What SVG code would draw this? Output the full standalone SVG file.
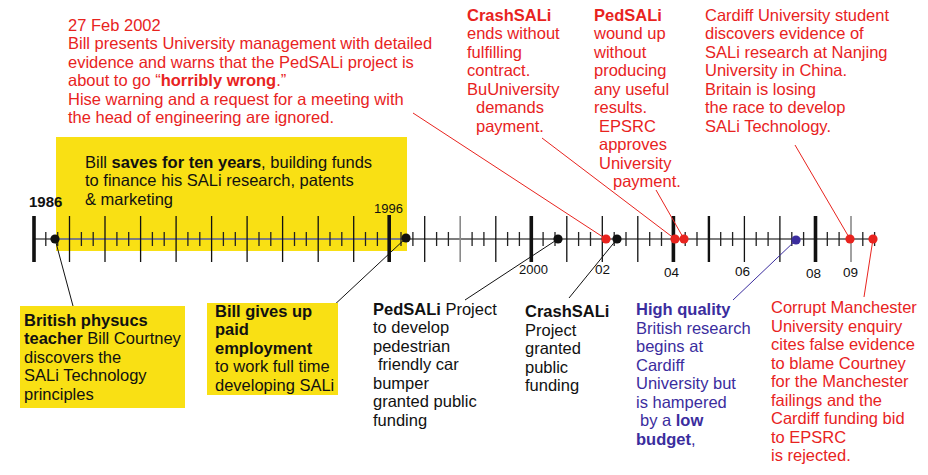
<svg xmlns="http://www.w3.org/2000/svg" width="928" height="475" viewBox="0 0 928 475">
<style>
text{font-family:"Liberation Sans",Arial,sans-serif;font-size:16.5px}
.r{fill:#e8231e}
.k{fill:#111}
.bl{fill:#3b2d9e}
.b{font-weight:bold}
.yr{font-size:13.5px;fill:#111}
.box{fill:#f9e014}
.tk{stroke:#111;stroke-width:1.3}
.sm{stroke:#222;stroke-width:1.3}
.th{stroke:#111;stroke-width:3.6}
.gr{stroke:#8a8a8a;stroke-width:1.6}
.cn{fill:none;stroke-width:1}
</style>
<rect width="928" height="475" fill="#fff"/>

<g id="savings-box">
<rect class="box" x="56" y="137" width="351" height="114"/>
<text class="k" x="85" y="167.5">Bill <tspan class="b">saves for ten years</tspan>, building funds</text>
<text class="k" x="85" y="186">to finance his SALi research, patents</text>
<text class="k" x="85" y="204.5">&amp; marketing</text>
</g>

<g id="timeline">
<line x1="34" y1="239" x2="877" y2="239" stroke="#7d7d7d" stroke-width="2"/>
<path class="sm" d="M45.8 232V246M57.7 232V246M81.4 232V246M93.2 232V246M116.9 232V246M128.7 232V246M152.4 232V246M164.2 232V246M187.9 232V246M199.8 232V246M223.4 232V246M235.3 232V246M259 232V246M270.8 232V246M294.5 232V246M306.3 232V246M330 232V246M341.8 232V246M365.5 232V246M377.4 232V246M401 232V246M412.9 232V246M436.6 232V246M448.4 232V246M472.1 232V246M483.9 232V246M507.6 232V246M519.4 232V246M543.1 232V246M555 232V246M578.6 232V246M590.5 232V246M614.2 232V246M626 232V246M649.7 232V246M661.5 232V246M685.2 232V246M697 232V246M720.7 232V246M732.6 232V246M756.2 232V246M768.1 232V246M791.8 232V246M803.6 232V246M827.3 232V246M839.1 232V246M862.8 232V246M874.6 232V246"/>
<path class="tk" d="M69.5 216V262M105 216V262M140.6 216V262M176.1 216V262M211.6 216V262M247.1 216V262M282.6 216V262M318.2 216V262M353.7 216V262M424.7 216V262M495.8 216V262M566.8 216V262M602.3 216V262M637.8 216V262M744.4 216V262M779.9 216V262"/>
<path class="gr" d="M460.2 216V262M851 216V262"/>
<path class="th" d="M34 216V262M389.2 215V262M531.3 216V262M673.4 216V262M815.5 216V262"/>
<path stroke="#111" stroke-width="2.4" d="M708.9 216V262"/>
<text class="k b" x="29" y="207" style="font-size:15px">1986</text>
<text class="yr" x="374" y="213" style="font-size:13px">1996</text>
<text class="yr" x="519" y="274" style="font-size:13px">2000</text>
<text class="yr" x="595" y="274">02</text>
<text class="yr" x="664" y="276.5">04</text>
<text class="yr" x="735" y="276">06</text>
<text class="yr" x="806" y="278">08</text>
<text class="yr" x="843" y="277">09</text>
</g>

<g id="connectors">
<line class="cn" stroke="#111" x1="55" y1="239" x2="73" y2="306"/>
<line class="cn" stroke="#111" x1="406" y1="238" x2="331" y2="308"/>
<line class="cn" stroke="#111" x1="558" y1="239" x2="465" y2="300"/>
<line class="cn" stroke="#111" x1="617" y1="239" x2="569" y2="298"/>
<line class="cn" stroke="#3b2d9e" x1="796" y1="240" x2="733" y2="300"/>
<line class="cn" stroke="#e8231e" x1="413" y1="113" x2="606" y2="239"/>
<line class="cn" stroke="#e8231e" x1="542" y1="138" x2="675" y2="239"/>
<line class="cn" stroke="#e8231e" x1="656" y1="190" x2="684" y2="239"/>
<line class="cn" stroke="#e8231e" x1="795" y1="145" x2="850" y2="239"/>
<line class="cn" stroke="#e8231e" x1="873" y1="239" x2="864" y2="297"/>
</g>

<g id="events">
<circle cx="55" cy="239" r="4.6" fill="#111"/>
<circle cx="406" cy="238" r="4.6" fill="#111"/>
<circle cx="558" cy="239" r="4.6" fill="#111"/>
<circle cx="617" cy="239" r="4.6" fill="#111"/>
<circle cx="606" cy="239" r="4.6" fill="#e8231e"/>
<circle cx="675" cy="239" r="4.6" fill="#e8231e"/>
<circle cx="684" cy="239" r="4.6" fill="#e8231e"/>
<circle cx="850" cy="239" r="4.6" fill="#e8231e"/>
<circle cx="873" cy="239" r="4.6" fill="#e8231e"/>
<circle cx="796" cy="240" r="4.6" fill="#3b2d9e"/>
</g>

<g id="feb2002">
<text class="r" x="68" y="30.5">27 Feb 2002</text>
<text class="r" x="68" y="49">Bill presents University management with detailed</text>
<text class="r" x="68" y="67.5">evidence and warns that the PedSALi project is</text>
<text class="r" x="68" y="86">about to go “<tspan class="b">horribly wrong</tspan>.”</text>
<text class="r" x="68" y="104.5">Hise warning and a request for a meeting with</text>
<text class="r" x="68" y="123">the head of engineering are ignored.</text>
</g>

<g id="crashsali-ends">
<text class="r b" x="467" y="20.5">CrashSALi</text>
<text class="r" x="467" y="39">ends without</text>
<text class="r" x="467" y="57.5">fulfilling</text>
<text class="r" x="467" y="76">contract.</text>
<text class="r" x="467" y="94.5">BuUniversity</text>
<text class="r" x="476" y="113">demands</text>
<text class="r" x="476" y="131.5">payment.</text>
</g>

<g id="pedsali-wound-up">
<text class="r b" x="594" y="20.5">PedSALi</text>
<text class="r" x="594" y="39">wound up</text>
<text class="r" x="594" y="57.5">without</text>
<text class="r" x="594" y="76">producing</text>
<text class="r" x="594" y="94.5">any useful</text>
<text class="r" x="594" y="113">results.</text>
<text class="r" x="599" y="131.5">EPSRC</text>
<text class="r" x="599" y="150">approves</text>
<text class="r" x="599" y="168.5">University</text>
<text class="r" x="613" y="187">payment.</text>
</g>

<g id="nanjing">
<text class="r" x="705" y="20.5">Cardiff University student</text>
<text class="r" x="705" y="39">discovers evidence of</text>
<text class="r" x="705" y="57.5">SALi research at Nanjing</text>
<text class="r" x="705" y="76">University in China.</text>
<text class="r" x="705" y="94.5">Britain is losing</text>
<text class="r" x="705" y="113">the race to develop</text>
<text class="r" x="705" y="131.5">SALi Technology.</text>
</g>

<g id="discovery">
<rect class="box" x="20" y="306" width="165" height="102"/>
<text class="k b" x="24" y="325.5">British physucs</text>
<text class="k" x="24" y="344"><tspan class="b">teacher</tspan> Bill Courtney</text>
<text class="k" x="24" y="362.5">discovers the</text>
<text class="k" x="24" y="381">SALi Technology</text>
<text class="k" x="24" y="399.5">principles</text>
</g>

<g id="gives-up">
<rect class="box" x="207" y="303" width="131" height="92"/>
<text class="k b" x="215" y="316.7">Bill gives up</text>
<text class="k b" x="215" y="335.2">paid</text>
<text class="k b" x="215" y="353.7">employment</text>
<text class="k" x="215" y="372.2">to work full time</text>
<text class="k" x="215" y="390.7">developing SALi</text>
</g>

<g id="pedsali-project">
<text class="k" x="373" y="314.7"><tspan class="b">PedSALi</tspan> Project</text>
<text class="k" x="373" y="333.2">to develop</text>
<text class="k" x="373" y="351.7">pedestrian</text>
<text class="k" x="378" y="370.2">friendly car</text>
<text class="k" x="373" y="388.7">bumper</text>
<text class="k" x="373" y="407.2">granted public</text>
<text class="k" x="373" y="425.7">funding</text>
</g>

<g id="crashsali-project">
<text class="k b" x="525" y="317.3">CrashSALi</text>
<text class="k" x="525" y="335.8">Project</text>
<text class="k" x="525" y="354.3">granted</text>
<text class="k" x="525" y="372.8">public</text>
<text class="k" x="525" y="391.3">funding</text>
</g>

<g id="cardiff-research">
<text class="bl b" x="636" y="315">High quality</text>
<text class="bl" x="636" y="333.5">British research</text>
<text class="bl" x="636" y="352">begins at</text>
<text class="bl" x="636" y="370.5">Cardiff</text>
<text class="bl" x="636" y="389">University but</text>
<text class="bl" x="636" y="407.5">is hampered</text>
<text class="bl" x="640" y="426">by a <tspan class="b">low</tspan></text>
<text class="bl" x="636" y="444.5"><tspan class="b">budget</tspan>,</text>
</g>

<g id="manchester-enquiry">
<text class="r" x="771" y="313.3">Corrupt Manchester</text>
<text class="r" x="771" y="331.8">University enquiry</text>
<text class="r" x="771" y="350.3">cites false evidence</text>
<text class="r" x="771" y="368.8">to blame Courtney</text>
<text class="r" x="771" y="387.3">for the Manchester</text>
<text class="r" x="771" y="405.8">failings and the</text>
<text class="r" x="771" y="424.3">Cardiff funding bid</text>
<text class="r" x="771" y="442.8">to EPSRC</text>
<text class="r" x="771" y="461.3">is rejected.</text>
</g>
</svg>
